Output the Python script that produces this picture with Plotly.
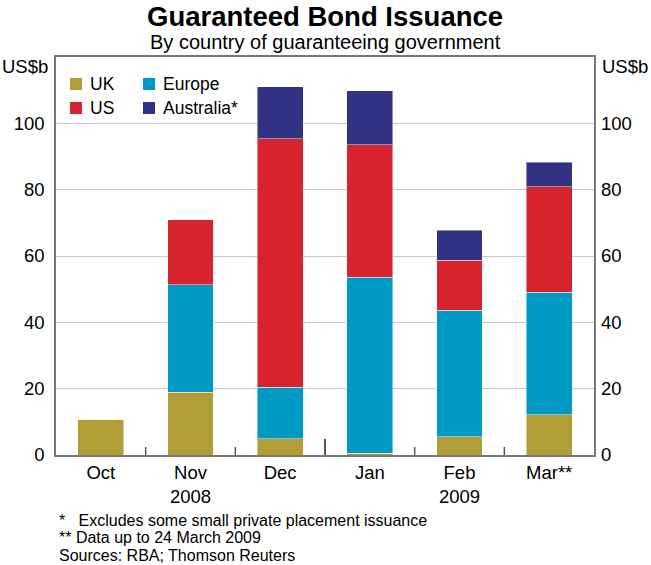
import plotly.graph_objects as go

# Monthly guaranteed bond issuance, US$b
months = ["Oct", "Nov", "Dec", "Jan", "Feb", "Mar**"]
month_labels = ["Oct", "Nov<br>2008", "Dec", "Jan", "Feb<br>2009", "Mar**"]
uk = [10.8, 18.9, 4.9, 0.6, 5.5, 12.1]
europe = [0, 32.5, 15.6, 53.0, 38.2, 37.0]
us = [0, 19.5, 74.8, 40.0, 15.0, 31.8]
australia = [0, 0, 15.8, 16.3, 9.0, 7.4]
y_ticks = [0, 20, 40, 60, 80, 100]

font = "Liberation Sans, Arial, sans-serif"
colors = {"UK": "#B39D37", "Europe": "#0099C4", "US": "#D6232D", "Australia*": "#323284"}

# plot area in pixels
L, R, T, B = 56, 57, 57, 110
W, H = 651, 565
PW, PH = W - L - R, H - T - B


def px_x(px):
    return (px - L) / PW


def px_y(py):
    return 1 - (py - T) / PH


fig = go.Figure()

# stacking order bottom -> top
for name, vals in [("UK", uk), ("Europe", europe), ("US", us), ("Australia*", australia)]:
    fig.add_trace(go.Bar(
        x=months, y=vals, name=name, showlegend=False,
        marker=dict(color=colors[name], line=dict(color="rgba(255,255,255,0.45)", width=1)),
    ))

# dummy trace so the right-hand axis is drawn
fig.add_trace(go.Scatter(x=months, y=uk, yaxis="y2", mode="none",
                         showlegend=False, hoverinfo="skip"))

axis_line = "#777777"
fig.update_layout(
    width=W, height=H,
    margin=dict(l=L, r=R, t=T, b=B),
    barmode="stack", bargap=0.49,
    plot_bgcolor="white", paper_bgcolor="white",
    font=dict(family=font, size=18.5, color="black"),
    xaxis=dict(
        tickvals=months, ticktext=month_labels, ticks="",
        showline=True, linecolor=axis_line, linewidth=1.5, mirror=True,
        showgrid=False, tickfont=dict(size=18.5),
    ),
    yaxis=dict(
        range=[0, 120], tickvals=y_ticks, showgrid=True, gridcolor="#c8c8c8",
        showline=True, linecolor=axis_line, linewidth=1.5, mirror=True,
        ticks="", tickfont=dict(size=18.5), zeroline=False, ticklabelstandoff=6,
    ),
    yaxis2=dict(
        range=[0, 120], tickvals=y_ticks, overlaying="y", side="right",
        showgrid=False, showline=False, ticks="", tickfont=dict(size=18.5),
        zeroline=False, ticklabelstandoff=6,
    ),
)

# title, subtitle and unit labels
texts = [
    ("<b>Guaranteed Bond Issuance</b>", 0.5, px_y(16), "center", 27.5),
    ("By country of guaranteeing government", 0.5, px_y(42), "center", 20),
    ("US$b", px_x(0), px_y(66), "left", 18.5),
    ("US$b", px_x(600), px_y(66), "left", 18.5),
]
for txt, x, y, anchor, size in texts:
    fig.add_annotation(text=txt, x=x, y=y, xref="paper", yref="paper",
                       xanchor=anchor, yanchor="middle", showarrow=False,
                       font=dict(size=size))

# legend in two columns: (name, swatch left px, row centre px)
legend_items = [("UK", 70, 84), ("US", 70, 108), ("Europe", 143, 84), ("Australia*", 143, 108)]
for name, sx, sy in legend_items:
    fig.add_shape(type="rect", xref="paper", yref="paper",
                  x0=px_x(sx), x1=px_x(sx + 12), y0=px_y(sy + 6), y1=px_y(sy - 6),
                  fillcolor=colors[name], line=dict(width=0))
    fig.add_annotation(text=name, x=px_x(sx + 18), y=px_y(sy), xref="paper", yref="paper",
                       xanchor="left", yanchor="middle", showarrow=False,
                       font=dict(size=17.5))

footnotes = [
    "*   Excludes some small private placement issuance",
    "** Data up to 24 March 2009",
    "Sources: RBA; Thomson Reuters",
]
for i, txt in enumerate(footnotes):
    fig.add_annotation(text=txt, x=px_x(57), y=px_y(520 + 17.5 * i), xref="paper",
                       yref="paper", xanchor="left", yanchor="middle",
                       showarrow=False, font=dict(size=16))

# inside ticks on the month boundaries; the Dec/Jan one marks the year change
for i in range(len(months) - 1):
    tall = months[i] == "Dec"
    fig.add_shape(type="line", xref="x", yref="paper", x0=i + 0.5, x1=i + 0.5,
                  y0=0, y1=(16 if tall else 8) / PH,
                  line=dict(color="#222" if tall else "#555", width=1.5))

fig.write_html("out.html", config={"displayModeBar": False},
               post_script="document.body.style.margin='0';")
